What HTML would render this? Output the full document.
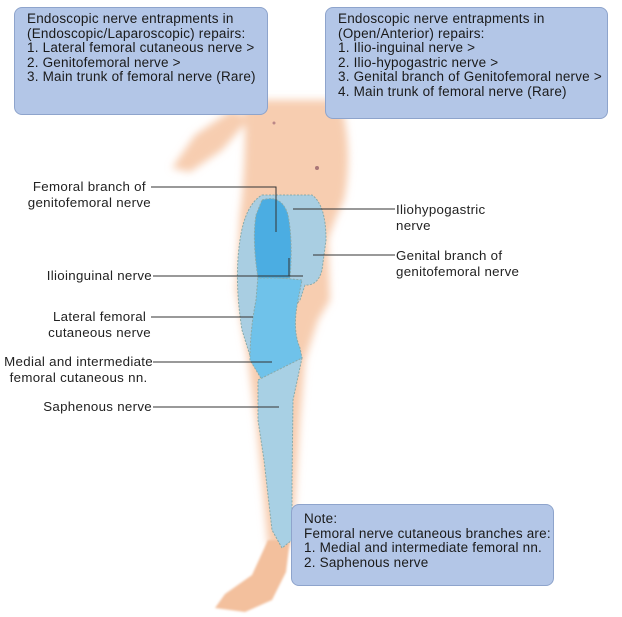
<!DOCTYPE html>
<html><head><meta charset="utf-8"><style>
body{margin:0;background:#fff;width:622px;height:617px;position:relative;overflow:hidden;font-family:"Liberation Sans",sans-serif;}
.box{position:absolute;background:#b3c6e7;border:1px solid #8ea4cc;border-radius:8px;box-sizing:border-box;font-size:13.5px;letter-spacing:0.2px;line-height:14.6px;color:#1a1a1a;padding:4px 0 0 12px;white-space:nowrap;}
.l{position:absolute;font-size:13.3px;letter-spacing:0.3px;line-height:16px;color:#222;white-space:nowrap;}
svg{position:absolute;left:0;top:0}
</style></head><body>
<svg width="622" height="617">
<defs><filter id="b"><feGaussianBlur stdDeviation="4"/></filter><filter id="b2"><feGaussianBlur stdDeviation="1"/></filter></defs>
<g filter="url(#b)" fill="#f7cdb0">
<path d="M245,100 L340,100 Q354,150 344,200 Q334,220 328,240 L330,300 L318,320 L305,360 L300,420 L295,500 L290,545 L268,545 L262,480 L256,420 L248,360 L236,290 L240,215 Q246,170 245,100Z"/>
<path d="M232,110 L250,118 L222,150 L190,172 L172,168 L195,135Z"/>
</g>
<g filter="url(#b2)" fill="#f3c09d">
<path d="M268,540 L290,540 L286,572 L272,600 L245,612 L215,608 L225,594 L252,575Z"/>
</g>
<circle cx="274" cy="123" r="1.5" fill="#b88"/><circle cx="317" cy="168" r="2" fill="#a77"/>
<g stroke="#8aa" stroke-width="1" stroke-dasharray="2,1.5">
<path fill="#a9cee2" d="M262,195 L312,195 Q326,205 326,240 L322,270 Q318,286 305,285 L300,300 L252,362 L242,330 Q234,280 240,240 Q245,205 262,195Z"/>
<path fill="#6fc2ea" d="M258,276 L302,280 L298,300 Q292,330 300,348 L302,358 Q285,372 262,380 L250,360 Q250,330 256,300Z"/>
<path fill="#4badE2" d="M262,200 Q282,194 288,215 Q293,240 290,278 L258,278 Q252,240 256,215Z"/>
<path fill="#a8d0e4" d="M258,380 L302,358 L293,400 L292,480 L292,540 L282,548 L272,530 L264,460 L258,420Z"/>
</g>
<g stroke="#333" stroke-width="1" fill="none">
<path d="M151,187 H276 V232"/>
<path d="M293,209 H395"/>
<path d="M313,255 H395"/>
<path d="M153,276 H303 M289,258 V276"/>
<path d="M151,317 H253"/>
<path d="M153,362 H272"/>
<path d="M153,407 H279"/>
</g>
</svg>
<div class="box" style="left:14px;top:7px;width:254px;height:108px">Endoscopic nerve entrapments in<br>(Endoscopic/Laparoscopic) repairs:<br>1. Lateral femoral cutaneous nerve &gt;<br>2. Genitofemoral nerve &gt;<br>3. Main trunk of femoral nerve (Rare)</div>
<div class="box" style="left:325px;top:7px;width:283px;height:112px">Endoscopic nerve entrapments in<br>(Open/Anterior) repairs:<br>1. Ilio-inguinal nerve &gt;<br>2. Ilio-hypogastric nerve &gt;<br>3. Genital branch of Genitofemoral nerve &gt;<br>4. Main trunk of femoral nerve (Rare)</div>
<div class="box" style="left:291px;top:504px;width:263px;height:82px;padding-top:7px">Note:<br>Femoral nerve cutaneous branches are:<br>1. Medial and intermediate femoral nn.<br>2. Saphenous nerve</div>
<div class="l" style="right:471px;top:179px;text-align:center">Femoral branch of<br>genitofemoral nerve</div>
<div class="l" style="left:396px;top:202px">Iliohypogastric<br>nerve</div>
<div class="l" style="left:396px;top:248px">Genital branch of<br>genitofemoral nerve</div>
<div class="l" style="right:470px;top:268px">Ilioinguinal nerve</div>
<div class="l" style="right:471px;top:309px;text-align:center">Lateral femoral<br>cutaneous nerve</div>
<div class="l" style="right:469px;top:354px;text-align:center">Medial and intermediate<br>femoral cutaneous nn.</div>
<div class="l" style="right:470px;top:399px">Saphenous nerve</div>
</body></html>
